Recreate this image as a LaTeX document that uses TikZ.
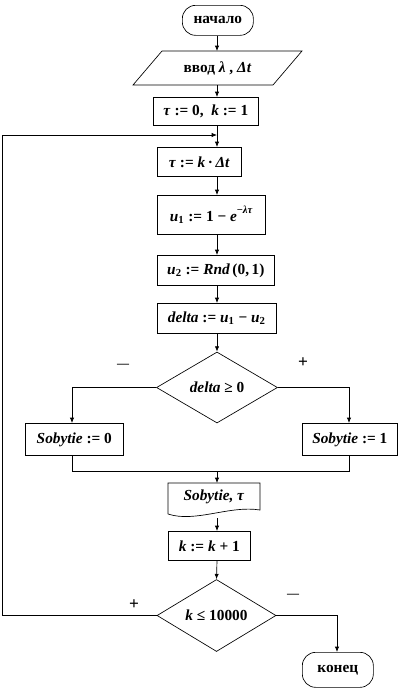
\documentclass[tikz,border=0pt]{standalone}
\usepackage{fontspec}
\setmainfont{Liberation Serif}
\usetikzlibrary{shapes.geometric,arrows.meta}
\newcommand{\bi}[1]{\textbf{\textit{#1}}}
\newcommand{\pxu}{0.75pt}
\begin{document}
\begin{tikzpicture}[x=0.75pt,y=-0.75pt,
  txt/.style={inner sep=0pt, font=\fontsize{11.5}{13}\selectfont\bfseries},
  box/.style={txt, draw, line width=0.5pt, anchor=north west},
  term/.style={box, rounded corners=10pt},
  dec/.style={txt, draw, diamond, line width=0.5pt, aspect=1.65},
  arr/.style={-{Latex[length=4pt,width=3.2pt]}, line width=0.5pt},
  ln/.style={line width=0.5pt},
  sign/.style={font=\fontsize{13}{14}\selectfont\bfseries},
  dsign/.style={font=\fontsize{9}{10}\selectfont\bfseries}]
\useasboundingbox (0,0) rectangle (400,690);
\coordinate (sp) at (217,0);
% start
\node[term, minimum width=71*\pxu, minimum height=30*\pxu] (start) at (182,5) {начало};
% input parallelogram
\draw[ln] (133,85) -- (162,51) -- (302,51) -- (273,85) -- cycle;
\node[txt, minimum width=110*\pxu, minimum height=34*\pxu] (io) at (217.5,68) {ввод \bi{λ} , \bi{Δt}};
\coordinate (iot) at (217,51);
\coordinate (iob) at (217,85);
% init
\node[box, minimum width=105*\pxu, minimum height=28*\pxu] (init) at (153,97) {\bi{τ} := 0,\enspace \bi{k} := 1};
\node[box, minimum width=84*\pxu, minimum height=29*\pxu] (tau) at (157,147) {\bi{τ} := \bi{k}\,·\,\bi{Δt}};
\node[box, minimum width=108*\pxu, minimum height=39*\pxu] (u1) at (157,195) {\bi{u}\textsubscript{1} := 1 − \bi{e}\raisebox{1.1ex}{\footnotesize −\bi{λτ}}};
\node[box, minimum width=117*\pxu, minimum height=30*\pxu] (u2) at (157,255) {\bi{u}\textsubscript{2} := \bi{Rnd}\,(0,\,1)};
\node[box, minimum width=119*\pxu, minimum height=30*\pxu] (dl) at (157,303) {\bi{delta} := \bi{u}\textsubscript{1} − \bi{u}\textsubscript{2}};
% decision 1
\node[dec, minimum width=121*\pxu, minimum height=71*\pxu] (d1) at (217,387.5) {\bi{delta} ≥ 0};
\node[box, minimum width=98*\pxu, minimum height=32*\pxu] (s0) at (25,423) {\bi{Sobytie} := 0};
\node[box, minimum width=95*\pxu, minimum height=32*\pxu] (s1) at (302,423) {\bi{Sobytie} := 1};
\node[dsign] at (123,366) {—};
\node[sign] at (303,363) {+};
% merge
\coordinate (mL) at (72,471);
\coordinate (mR) at (349,471);
\coordinate (mC) at (217,471);
% document
\draw[ln] (168,514) -- (168,483) -- (260,483) -- (260,510) .. controls (230,505) and (195,523) .. (168,514);
\node[txt, minimum width=90*\pxu, minimum height=28*\pxu] (out) at (214,497) {\bi{Sobytie, τ}};
\coordinate (outt) at (217,483);
\coordinate (outb) at (217,518);
\node[box, minimum width=82*\pxu, minimum height=29*\pxu] (inc) at (168,531) {\bi{k} := \bi{k} + 1};
% decision 2
\node[dec, minimum width=119*\pxu, minimum height=72*\pxu] (d2) at (216.5,615.5) {\bi{k} ≤ 10000};
\node[sign] at (134,605) {+};
\node[dsign] at (293,596) {—};
\node[term, minimum width=71*\pxu, minimum height=35*\pxu] (end) at (302,652) {конец};
% connectors
\draw[arr] (start.south -| sp) -- (iot);
\draw[arr] (iob) -- (init.north -| sp);
\draw[arr] (init.south -| sp) -- (tau.north -| sp);
\draw[arr] (tau.south -| sp) -- (u1.north -| sp);
\draw[arr] (u1.south -| sp) -- (u2.north -| sp);
\draw[arr] (u2.south -| sp) -- (dl.north -| sp);
\draw[arr] (dl.south -| sp) -- (d1.north);
\draw[arr] (d1.west) -| (s0.north -| mL);
\draw[arr] (d1.east) -| (s1.north -| mR);
\draw[ln] (s0.south -| mL) -- (mL) -- (mR) -- (s1.south -| mR);
\draw[arr] (mC) -- (outt);
\draw[arr] (outb) -- (inc.north -| sp);
\draw[arr] (inc.south -| sp) -- (d2.north);
\coordinate (lb) at (2,615.5);
\coordinate (lt) at (2,135);
\coordinate (lj) at (217,135);
\draw[arr] (d2.west) -- (lb) -- (lt) -- (lj);
\coordinate (ex) at (337,0);
\draw[arr] (d2.east) -| (end.north -| ex);
\end{tikzpicture}
\end{document}
